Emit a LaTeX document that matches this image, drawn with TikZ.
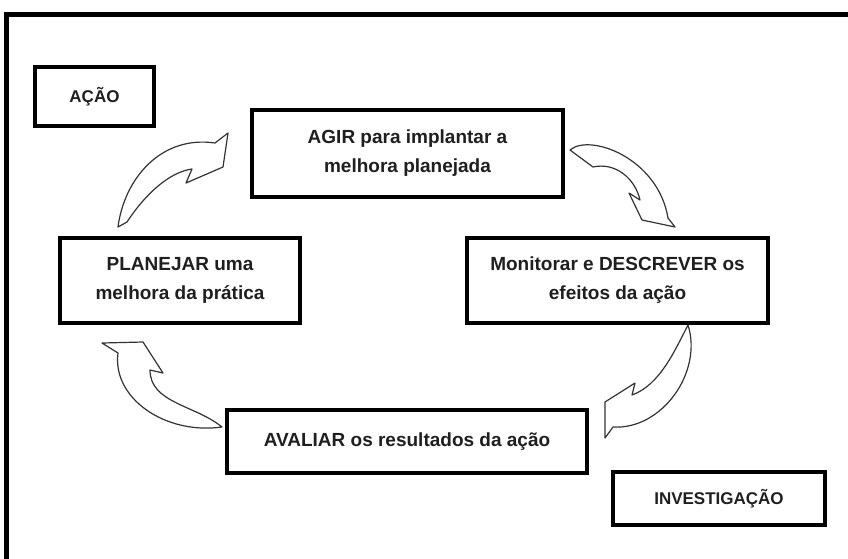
\documentclass[tikz,border=0pt]{standalone}
\usepackage{fontspec}
\setmainfont{Liberation Sans}
\begin{document}
\begin{tikzpicture}[x=1pt,y=-1pt,
  box/.style={draw=black, line width=3.4pt, fill=white, inner sep=0pt,
    align=center, text=black!88, font=\fontsize{19}{29}\selectfont\bfseries},
  lbl/.style={box, font=\fontsize{17}{20}\selectfont\bfseries},
  carrow/.style={draw=black!80, line width=1.2pt, fill=white, line join=round}]
\useasboundingbox (0,0) rectangle (848,558);
\clip (0,0) rectangle (848,558);
\fill[white] (0,0) rectangle (848,558);
% frame
\coordinate (fbl) at (6,570);
\coordinate (ftl) at (6,14.5);
\coordinate (ftr) at (860,14.5);
\draw[line width=5pt] (fbl) -- (ftl) -- (ftr);
% boxes
\node[lbl, minimum width=119pt, minimum height=59pt] (acao) at (94.5,96.5) {AÇÃO};
\node[box, minimum width=311pt, minimum height=87pt] (agir) at (407.5,153.5)
  {AGIR para implantar a\\melhora planejada};
\node[box, minimum width=240pt, minimum height=85pt] (plan) at (180,280.5)
  {PLANEJAR uma\\melhora da prática};
\node[box, minimum width=301pt, minimum height=85pt] (mon) at (617.5,280.5)
  {Monitorar e DESCREVER os\\efeitos da ação};
\node[box, minimum width=360pt, minimum height=63pt] (aval) at (407,441.5)
  {AVALIAR os resultados da ação};
\node[lbl, minimum width=212pt, minimum height=53pt] (inv) at (719,498.5) {INVESTIGAÇÃO};
% curved arrows
\draw[carrow] (118,227) .. controls (124,180) and (160,135) .. (215,143)
  -- (228,133) -- (223,167) -- (186,183) -- (192,169)
  .. controls (170,172) and (146,193) .. (127,222) -- cycle;
\draw[carrow] (570,150) .. controls (590,133) and (658,158) .. (668,218)
  -- (675,227) -- (642,220) -- (629,193) -- (640,200)
  .. controls (635,178) and (615,162) .. (593,167) -- cycle;
\draw[carrow] (688,325) .. controls (703,372) and (662,430) .. (613,427)
  -- (605,438) -- (605,402) -- (635,383) -- (632,395)
  .. controls (660,385) and (675,350) .. (688,325) -- cycle;
\draw[carrow] (222,427) .. controls (165,435) and (112,398) .. (118,353)
  -- (102,343) -- (143,342) -- (163,373) -- (150,370)
  .. controls (150,403) and (195,405) .. (222,427) -- cycle;
\end{tikzpicture}
\end{document}
